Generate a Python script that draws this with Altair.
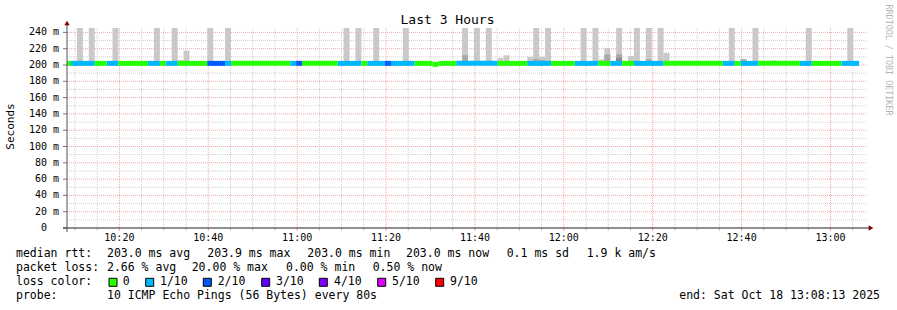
import altair as alt
import pandas as pd

# ---------------- data ----------------
PLOT_START = "10:08:13"
PLOT_END = "13:08:13"
FIRST_STEP_START = "10:07:47"
STEP_SECONDS = 80
Y_TOP = 245.4

# packet loss per 80 s step (in tenths of the 10 pings)
loss_tenths = [
    0, 1, 1, 1, 1, 0, 0, 1, 1, 0,
    0, 0, 0, 0, 1, 1, 0, 1, 1, 0,
    0, 0, 0, 0, 2, 2, 2, 1, 0, 0,
    0, 0, 0, 0, 0, 0, 0, 0, 1, 2,
    0, 0, 0, 0, 0, 0, 1, 1, 1, 1,
    0, 1, 1, 1, 2, 1, 1, 1, 1, 0,
    0, 0, 0, 0, 0, 0, 1, 1, 1, 1,
    1, 1, 1, 0, 0, 0, 0, 0, 1, 1,
    1, 1, 0, 0, 0, 0, 1, 1, 1, 1,
    0, 0, 1, 1, 0, 0, 1, 1, 1, 1,
    1, 0, 0, 0, 0, 0, 0, 0, 0, 0,
    0, 1, 1, 0, 1, 1, 1, 0, 0, 0,
    0, 0, 0, 0, 1, 1, 0, 0, 0, 0,
    0, 1, 1, 1,
]

# median rtt per step as drawn (ms)
median_ms = [
    202.0, 202.0, 202.0, 202.0, 202.0, 202.0, 202.0, 202.0, 202.0, 202.0,
    202.0, 202.0, 202.0, 202.0, 202.0, 202.0, 202.0, 202.0, 202.0, 202.0,
    202.0, 202.0, 202.0, 202.0, 202.0, 202.0, 202.0, 202.0, 202.0, 202.0,
    202.0, 202.0, 202.0, 202.0, 202.0, 202.0, 202.0, 202.0, 202.0, 202.0,
    202.0, 202.0, 202.0, 202.0, 202.0, 202.0, 202.0, 202.0, 202.0, 202.0,
    202.0, 202.0, 202.0, 202.0, 202.0, 202.0, 202.0, 202.0, 202.0, 202.0,
    202.0, 202.0, 200.8, 202.0, 202.0, 202.0, 202.0, 202.0, 202.0, 202.0,
    202.0, 202.0, 202.0, 202.0, 202.0, 202.0, 202.0, 202.0, 202.0, 202.0,
    202.0, 202.0, 202.0, 202.0, 202.0, 202.0, 202.0, 202.0, 202.0, 202.0,
    202.0, 202.0, 202.0, 202.0, 202.0, 202.0, 202.0, 202.0, 202.0, 202.0,
    202.0, 202.0, 202.0, 202.0, 202.0, 202.0, 202.0, 202.0, 202.0, 202.0,
    202.0, 202.0, 202.0, 202.0, 202.0, 202.0, 202.0, 202.0, 202.0, 202.0,
    202.0, 202.0, 202.0, 202.0, 202.0, 202.0, 202.0, 202.0, 202.0, 202.0,
    202.0, 202.0, 202.0, 202.0,
]

# smoke (ping spread) -- outer band
SMOKE_LOW = 202.0
smoke_steps = [2, 4, 8, 15, 18, 19, 20, 24, 27, 47, 49, 52, 57, 67, 69, 71, 73, 74,
               78, 79, 80, 81, 87, 89, 90, 91, 93, 95, 96, 98, 100, 101, 112, 114,
               116, 119, 125, 132]
smoke_high = [260, 260, 260, 260, 260, 206, 217.5, 260, 260, 260, 260, 260, 260, 260,
              260, 260, 208.5, 212, 210, 260, 210, 260, 260, 260, 207, 220.5, 260,
              211, 260, 260, 260, 215, 260, 207, 260, 205.5, 260, 260]
# inner (darker) smoke bands
mid_steps = [67, 79, 80, 91, 93, 98, 114]
mid_high = [212, 207.5, 206, 213, 213, 207, 207]
dark_steps = [93]
dark_high = [209]

loss_names = ["0", "1/10", "2/10", "3/10", "4/10", "5/10", "9/10"]
loss_colors = ["#26ff00", "#00b8ff", "#0059ff", "#5e00ff", "#7e00ff", "#dd00ff", "#ff0000"]

y_ticks = [0, 20, 40, 60, 80, 100, 120, 140, 160, 180, 200, 220, 240]
x_tick_labels = ["10:20", "10:40", "11:00", "11:20", "11:40", "12:00", "12:20", "12:40", "13:00"]

title_text = "Last 3 Hours"
y_title = "Seconds"
watermark = "RRDTOOL / TOBI OETIKER"
legend_median = ["203.0 ms avg", "203.9 ms max", "203.0 ms min", "203.0 ms now", "0.1 ms sd", "1.9 k am/s"]
legend_loss = ["2.66 % avg", "20.00 % max", "0.00 % min", "0.50 % now"]
probe_text = "10 ICMP Echo Pings (56 Bytes) every 80s"
end_text = "end: Sat Oct 18 13:08:13 2025"

# ---------------- helpers ----------------
def hms(s):
    h, m, sec = (int(v) for v in s.split(":"))
    return h * 3600 + m * 60 + sec

X0, X1 = hms(PLOT_START), hms(PLOT_END)
FIRST = hms(FIRST_STEP_START)
W, H = 800, 200
FONT = "DejaVu Sans Mono"

xscale = alt.Scale(domain=[X0, X1], nice=False, zero=False)
yscale = alt.Scale(domain=[0, Y_TOP], nice=False, zero=False)

def step_start(k):
    return FIRST + STEP_SECONDS * k

def loss_name(v):
    return loss_names[0] if v == 0 else f"{v}/10"

# merge consecutive steps with identical loss/median into runs (fewer seams)
runs = []
for k, (l, m) in enumerate(zip(loss_tenths, median_ms)):
    if runs and runs[-1]["loss"] == loss_name(l) and runs[-1]["median"] == m:
        runs[-1]["end"] = step_start(k + 1)
    else:
        runs.append({"start": step_start(k), "end": step_start(k + 1),
                     "loss": loss_name(l), "median": m})
runs_df = pd.DataFrame(runs)

def smoke_df(stp, hi):
    return pd.DataFrame({
        "start": [step_start(k) for k in stp],
        "end": [step_start(k + 1) for k in stp],
        "lo": [SMOKE_LOW] * len(stp),
        "hi": hi,
    })

def smoke_layer(df, color):
    return alt.Chart(df).mark_rect(clip=True, color=color).encode(
        x=alt.X("start:Q", scale=xscale, axis=None),
        x2="end:Q",
        y=alt.Y("lo:Q", scale=yscale, axis=None),
        y2="hi:Q",
    )

one = pd.DataFrame({"a": [0]})

# grid
y_minor = [v for v in range(10, 245, 10) if v % 20 != 0]
y_major = [v for v in y_ticks if v > 0]
x_all = list(range(((X0 // 300) + 1) * 300, X1, 300))
x_major = [hms(t + ":00") for t in x_tick_labels]
x_minor = [v for v in x_all if v not in x_major]

def hgrid(vals, color):
    return alt.Chart(pd.DataFrame({"v": vals})).mark_rule(
        color=color, strokeDash=[1, 1], strokeWidth=1
    ).encode(y=alt.Y("v:Q", scale=yscale, axis=None), x=alt.value(0), x2=alt.value(W))

def vgrid(vals, color):
    return alt.Chart(pd.DataFrame({"v": vals})).mark_rule(
        color=color, strokeDash=[1, 1], strokeWidth=1
    ).encode(x=alt.X("v:Q", scale=xscale, axis=None), y=alt.value(0), y2=alt.value(H))

GRID_MINOR = "#cfcfcf"
GRID_MAJOR = "#f0a8a8"

grid = [hgrid(y_minor, GRID_MINOR), vgrid(x_minor, GRID_MINOR),
        hgrid(y_major, GRID_MAJOR), vgrid(x_major, GRID_MAJOR)]

# tick marks
yt = alt.Chart(pd.DataFrame({"v": y_ticks})).mark_rule(color="#777777").encode(
    y=alt.Y("v:Q", scale=yscale, axis=None), x=alt.value(-4), x2=alt.value(0))
xt_minor = alt.Chart(pd.DataFrame({"v": x_minor})).mark_rule(color="#c8c8c8").encode(
    x=alt.X("v:Q", scale=xscale, axis=None), y=alt.value(H), y2=alt.value(H + 3))
xt_major = alt.Chart(pd.DataFrame({"v": x_major})).mark_rule(color="#e8a0a0").encode(
    x=alt.X("v:Q", scale=xscale, axis=None), y=alt.value(H), y2=alt.value(H + 3))

median = alt.Chart(runs_df).mark_rule(clip=True, strokeWidth=5, strokeCap="butt").encode(
    x=alt.X("start:Q", scale=xscale, axis=None),
    x2="end:Q",
    y=alt.Y("median:Q", scale=yscale, axis=None),
    color=alt.Color("loss:N", scale=alt.Scale(domain=loss_names, range=loss_colors), legend=None),
)

x_axis_line = alt.Chart(one).mark_rule(color="#222222", strokeWidth=1).encode(
    x=alt.value(-4), x2=alt.value(W + 2), y=alt.value(H))
y_axis_line = alt.Chart(one).mark_rule(color="#555555", strokeWidth=1).encode(
    x=alt.value(0), y=alt.value(H + 4), y2=alt.value(-4))
arrow_up = alt.Chart(one).mark_point(shape="triangle-up", filled=True, size=28, color="#7f0000", opacity=1).encode(
    x=alt.value(0), y=alt.value(-5))
arrow_right = alt.Chart(one).mark_point(shape="triangle-right", filled=True, size=28, color="#7f0000", opacity=1).encode(
    x=alt.value(W + 4), y=alt.value(H))

# tick labels
ylab = alt.Chart(pd.DataFrame({"v": [v for v in y_ticks if v > 0]})).transform_calculate(
    t="datum.v + ' m'").mark_text(font=FONT, fontSize=10, align="right", baseline="middle", color="#000").encode(
    y=alt.Y("v:Q", scale=yscale, axis=None), x=alt.value(-8), text="t:N")
ylab0 = alt.Chart(pd.DataFrame({"v": [0]})).mark_text(
    font=FONT, fontSize=10, align="right", baseline="middle", color="#000").encode(
    y=alt.Y("v:Q", scale=yscale, axis=None), x=alt.value(-20), text="v:Q")
xlab = alt.Chart(pd.DataFrame({"v": x_major, "t": x_tick_labels})).mark_text(
    font=FONT, fontSize=10, align="center", baseline="middle", color="#000").encode(
    x=alt.X("v:Q", scale=xscale, axis=None), y=alt.value(H + 10), text="t:N")

def text_layer(rows, size=11.5, align="left", color="#000000", angle=0):
    df = pd.DataFrame(rows, columns=["px", "py", "text"])
    return alt.Chart(df).mark_text(
        font=FONT, fontSize=size, align=align, baseline="middle", color=color, angle=angle
    ).encode(
        x=alt.X("px:Q", scale=None, axis=None),
        y=alt.Y("py:Q", scale=None, axis=None),
        text="text:N",
    )

title = text_layer([(380.5, -8, title_text)], size=13, align="center")
ytitle = text_layer([(-56, 98.5, y_title)], size=11, align="center", angle=270)
wm = text_layer([(821.5, 32, watermark)], size=8.4, align="center", color="#b4b4b4", angle=90)

L1, L2, L3, L4 = 226.3, 240.3, 254.3, 268.0
med_x = [40, 140.3, 240.3, 339, 439.7, 519.7]
loss_x = [40, 124.7, 219, 305.7]
legend_rows = [(-51, L1, "median rtt:"), (-51, L2, "packet loss:"),
               (-51, L3, "loss color:"), (-51, L4, "probe:"), (40, L4, probe_text)]
legend_rows += [(x, L1, t) for x, t in zip(med_x, legend_median)]
legend_rows += [(x, L2, t) for x, t in zip(loss_x, legend_loss)]
box_x = [46, 82.7, 140.3, 198.7, 256.3, 314.7, 372.7]
lab_x = [55.7, 93, 150.7, 209, 267, 325, 383]
legend_rows += [(x, L3, t) for x, t in zip(lab_x, loss_names)]
legend_text = text_layer(legend_rows)
end_layer = text_layer([(813, L4, end_text)], align="right")

boxes = alt.Chart(pd.DataFrame({"px": box_x, "py": [L3] * 7, "loss": loss_names})).mark_square(
    size=64, filled=True, stroke="#000000", strokeWidth=1, opacity=1).encode(
    x=alt.X("px:Q", scale=None, axis=None),
    y=alt.Y("py:Q", scale=None, axis=None),
    fill=alt.Fill("loss:N", scale=alt.Scale(domain=loss_names, range=loss_colors), legend=None),
)

chart = alt.layer(
    *grid,
    smoke_layer(smoke_df(smoke_steps, smoke_high), "#c9c9c9"),
    smoke_layer(smoke_df(mid_steps, mid_high), "#a8a8a8"),
    smoke_layer(smoke_df(dark_steps, dark_high), "#8c8c8c"),
    median,
    yt, xt_minor, xt_major,
    x_axis_line, y_axis_line, arrow_up, arrow_right,
    ylab, ylab0, xlab,
    title, ytitle, wm, legend_text, end_layer, boxes,
).resolve_scale(color="independent", fill="independent").properties(
    width=W, height=H,
    autosize=alt.AutoSizeParams(type="none"),
    padding={"left": 67, "top": 28, "right": 30, "bottom": 82},
    background="#ffffff",
).configure_view(stroke=None)

chart.save("out.html", embed_options={"renderer": "svg", "actions": False})
